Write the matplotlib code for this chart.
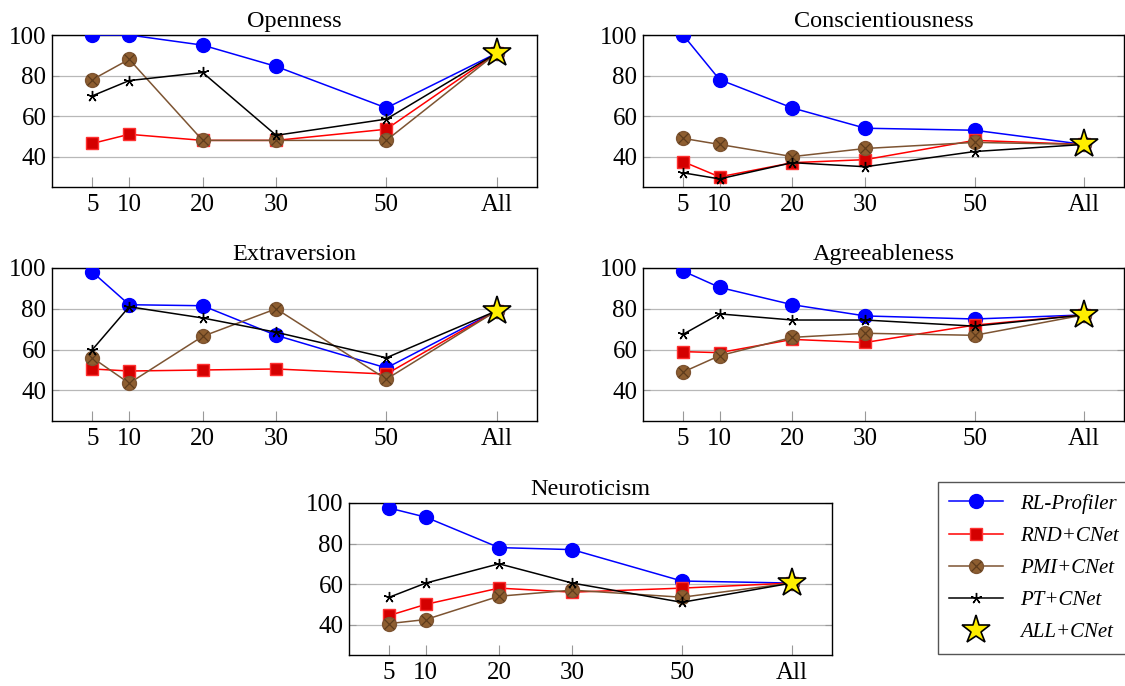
import numpy as np
import matplotlib
matplotlib.use("Agg")
import matplotlib.pyplot as plt
from matplotlib.legend_handler import HandlerTuple
from matplotlib.lines import Line2D

plt.rcParams['font.family'] = ['Liberation Serif', 'DejaVu Serif']

# x positions on the axis (50 sits at 45, "All" at 60, as in the original)
x_vals = [5, 10, 20, 30, 45, 60]
x_labels = ['5', '10', '20', '30', '50', 'All']

traits = ['Openness', 'Conscientiousness', 'Extraversion', 'Agreeableness', 'Neuroticism']

rl_profiler = {
    'Openness':          [100, 100, 95, 84.5, 64, 91],
    'Conscientiousness': [100, 78, 64, 54, 53, 46],
    'Extraversion':      [98, 82, 81.5, 67, 51, 79],
    'Agreeableness':     [98.5, 90.5, 82, 76.5, 75, 77],
    'Neuroticism':       [97.5, 93, 78, 77, 61.5, 60.5],
}
rnd_cnet = {
    'Openness':          [46.5, 51, 48, 48, 53.5, 91],
    'Conscientiousness': [37.5, 30, 37, 38.5, 48, 46],
    'Extraversion':      [50.5, 49.5, 50, 50.5, 48, 79],
    'Agreeableness':     [59, 58.5, 65, 63.5, 72, 77],
    'Neuroticism':       [44.5, 50, 58, 56, 58, 60.5],
}
pmi_cnet = {
    'Openness':          [78, 88, 48, 48, 48, 91],
    'Conscientiousness': [49, 46, 40, 44, 47, 46],
    'Extraversion':      [56, 43.5, 66.5, 80, 45.5, 79],
    'Agreeableness':     [49, 57, 66, 68, 67, 77],
    'Neuroticism':       [40.5, 42.5, 54, 57, 53.5, 60.5],
}
pt_cnet = {
    'Openness':          [70, 77.5, 81.5, 50.5, 58.5, 91],
    'Conscientiousness': [32, 29, 37, 35, 42.5, 46],
    'Extraversion':      [60, 81, 75.5, 68.5, 56, 79],
    'Agreeableness':     [67.5, 77.5, 74.5, 74.5, 71.5, 77],
    'Neuroticism':       [53.5, 60.5, 70, 60.5, 51, 60.5],
}
all_cnet = {
    'Openness': 91,
    'Conscientiousness': 46,
    'Extraversion': 79,
    'Agreeableness': 77,
    'Neuroticism': 60.5,
}

W, H = 1125, 686
fig = plt.figure(figsize=(W / 100, H / 100), dpi=100)

# axes boxes in pixels: left, top, right, bottom
boxes = {
    'Openness':          (52, 35, 537, 187),
    'Conscientiousness': (643, 35, 1124, 187),
    'Extraversion':      (52, 268, 537, 421),
    'Agreeableness':     (643, 268, 1124, 421),
    'Neuroticism':       (349, 503, 832, 655),
}

brown = '#7d5432'
brown_fill = '#8e5e30'
brown_x = '#5e3c1c'
star_line = (5, 2, 0)

for t in traits:
    l, tp, r, b = boxes[t]
    ax = fig.add_axes([l / W, 1 - b / H, (r - l) / W, (b - tp) / H])

    ax.plot(x_vals, rl_profiler[t], color='blue', lw=1.1, marker='o', ms=10,
            mfc='blue', mec='blue', zorder=3)
    ax.plot(x_vals, rnd_cnet[t], color='red', lw=1.1, marker='s', ms=9,
            mfc='#d40000', mec='#ff3030', zorder=4)
    ax.plot(x_vals, pmi_cnet[t], color=brown, lw=1.1, marker='o', ms=10,
            mfc=brown_fill, mec=brown, zorder=5)
    ax.plot(x_vals, pmi_cnet[t], ls='none', marker='x', ms=6.5, mew=0.9,
            mec=brown_x, zorder=5)
    ax.plot(x_vals, pt_cnet[t], color='black', lw=1.1, marker=star_line, ms=8,
            mew=1.0, mec='black', zorder=6)
    ax.plot([x_vals[-1]], [all_cnet[t]], ls='none', marker='*', ms=21,
            mfc='#ffee00', mec='black', mew=1.2, zorder=7)

    ax.set_xlim(-0.5, 65.5)
    ax.set_ylim(25, 100)
    ax.set_xticks(x_vals)
    ax.set_xticklabels(x_labels)
    ax.set_yticks([40, 60, 80, 100])
    ax.yaxis.grid(True, color='#b8b8b8', lw=0.9)
    ax.set_axisbelow(True)
    ax.tick_params(axis='x', direction='in', length=7, color='#999999',
                   labelsize=18, pad=5)
    ax.tick_params(axis='y', direction='in', length=5, color='#999999',
                   labelsize=18, pad=4, right=True)
    for s in ax.spines.values():
        s.set_linewidth(1.0)
    ax.set_title(t, fontsize=17.5, pad=6)

h_rl = Line2D([], [], color='blue', lw=1.1, marker='o', ms=10, mfc='blue', mec='blue')
h_rnd = Line2D([], [], color='red', lw=1.1, marker='s', ms=9, mfc='#d40000', mec='#ff3030')
h_pmi = (Line2D([], [], color=brown, lw=1.1, marker='o', ms=10, mfc=brown_fill, mec=brown),
         Line2D([], [], ls='none', marker='x', ms=6.5, mew=0.9, mec=brown_x))
h_pt = Line2D([], [], color='black', lw=1.1, marker=star_line, ms=8, mew=1.0)
h_all = Line2D([], [], ls='none', marker='*', ms=21, mfc='#ffee00', mec='black', mew=1.2)

leg = fig.legend([h_rl, h_rnd, h_pmi, h_pt, h_all],
                 ['RL-Profiler', 'RND+CNet', 'PMI+CNet', 'PT+CNet', 'ALL+CNet'],
                 loc='center', bbox_to_anchor=(1034 / W, 1 - 568 / H),
                 handler_map={tuple: HandlerTuple(ndivide=1, pad=0)},
                 prop={'style': 'italic', 'size': 15}, fancybox=False,
                 edgecolor='#555555', framealpha=1, handlelength=2.6,
                 labelspacing=0.6, borderpad=0.55, handletextpad=0.8)
leg.get_frame().set_linewidth(1.0)

fig.savefig('out.png', dpi=100)
